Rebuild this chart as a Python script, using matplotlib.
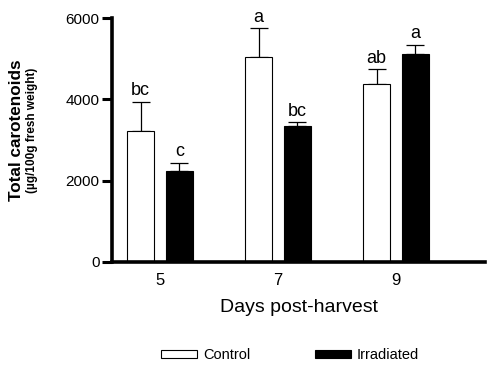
import matplotlib
matplotlib.use("Agg")
import matplotlib.pyplot as plt
import numpy as np

plt.rcParams['font.family'] = ['Liberation Sans', 'DejaVu Sans']

days = ["5", "7", "9"]
control = [3230, 5050, 4380]
control_err = [715, 700, 360]
irradiated = [2240, 3350, 5120]
irradiated_err = [190, 85, 220]
control_letters = ["bc", "a", "ab"]
irradiated_letters = ["c", "bc", "a"]

fig = plt.figure(figsize=(5.0, 3.7), dpi=100)
ax = fig.add_axes([0.224, 0.292, 0.746, 0.659])

x = np.arange(len(days))
w = 0.225
off = 0.165
lw_edge = 0.8

ax.bar(x - off, control, w, color='white', edgecolor='black', linewidth=lw_edge, label='Control', zorder=2)
ax.bar(x + off, irradiated, w, color='black', edgecolor='black', linewidth=lw_edge, label='Irradiated', zorder=2)
ax.errorbar(x - off, control, yerr=[np.zeros(3), control_err], fmt='none', ecolor='black',
            elinewidth=0.9, capsize=6.5, capthick=0.9, zorder=1)
ax.errorbar(x + off, irradiated, yerr=[np.zeros(3), irradiated_err], fmt='none', ecolor='black',
            elinewidth=0.9, capsize=6.5, capthick=0.9, zorder=1)

for i in range(len(days)):
    ax.annotate(control_letters[i], (x[i] - off, control[i] + control_err[i]), xytext=(0, 2),
                textcoords='offset points', ha='center', va='bottom', fontsize=13)
    ax.annotate(irradiated_letters[i], (x[i] + off, irradiated[i] + irradiated_err[i]), xytext=(0, 2),
                textcoords='offset points', ha='center', va='bottom', fontsize=13)

ax.set_xlim(-0.407, 2.754)
ax.set_ylim(0, 6000)
ax.set_yticks([0, 2000, 4000, 6000])
ax.set_xticks(x)
ax.set_xticklabels(days)
ax.tick_params(axis='y', length=7, width=2.2, labelsize=11, pad=2)
ax.tick_params(axis='x', length=0, labelsize=12, pad=8)
for s in ['top', 'right']:
    ax.spines[s].set_visible(False)
for s in ['left', 'bottom']:
    ax.spines[s].set_linewidth(2.6)

ax.set_xlabel("Days post-harvest", fontsize=14, labelpad=8)
fig.text(0.033, 0.647, "Total carotenoids", rotation=90, fontsize=12.3, fontweight='bold',
         ha='center', va='center')
fig.text(0.065, 0.648, "(\u00b5g/100g fresh weight)", rotation=90, fontsize=8.5, fontweight='bold',
         ha='center', va='center')

fig.legend(loc='center', bbox_to_anchor=(0.58, 0.04), ncol=2, frameon=False, fontsize=10.5,
           handlelength=2.5, handleheight=0.5, handletextpad=0.4, columnspacing=4.4)

fig.savefig("out.png", dpi=100)
